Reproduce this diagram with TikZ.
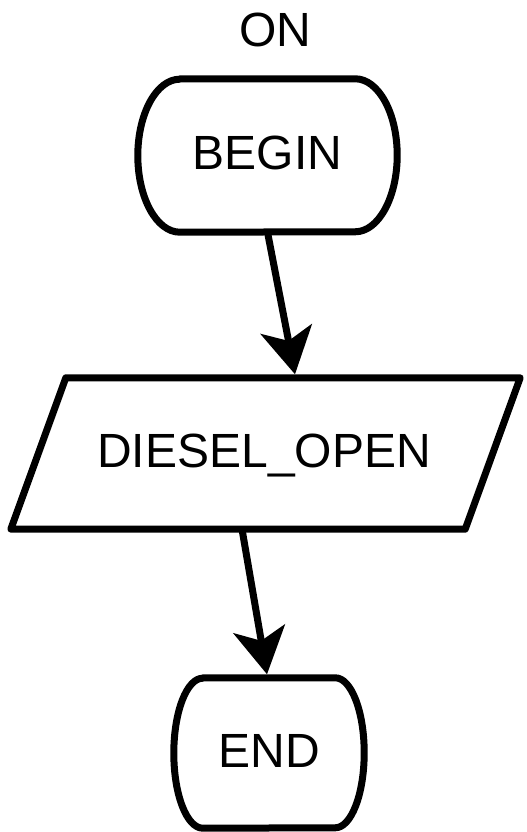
\documentclass[tikz,border=0pt]{standalone}
\usepackage{fontspec}
\setmainfont{Liberation Sans}
\usetikzlibrary{arrows.meta}
\begin{document}
\begin{tikzpicture}[x=1pt,y=1pt,
  lbl/.style={inner sep=0pt, anchor=base, font=\fontsize{48}{52}\selectfont},
  holder/.style={inner sep=0pt, draw=none},
  outline/.style={line width=7pt, line join=round},
  flow/.style={line width=7pt, -{Stealth[length=46pt, width=52pt, inset=12pt]}}]
  \useasboundingbox (0,0) rectangle (527,832);

  % BEGIN terminator
  \node[holder, minimum width=259, minimum height=153] (begin) at (267.5,676.5) {};
  \draw[outline] ([xshift=42]begin.north west) -- ([xshift=-42]begin.north east)
    arc[start angle=90, end angle=-90, x radius=42, y radius=76.5]
    -- ([xshift=42]begin.south west)
    arc[start angle=270, end angle=90, x radius=42, y radius=76.5] -- cycle;
  \node[lbl] (begintxt) at (267.5,662) {BEGIN};
  \node[lbl] (on) at (275.5,785) {ON};

  % DIESEL_OPEN input/output parallelogram
  \node[holder, minimum width=509, minimum height=151] (dio) at (265.5,378.5) {};
  \draw[outline] ([xshift=55]dio.north west) -- (dio.north east)
    -- ([xshift=-55]dio.south east) -- (dio.south west) -- cycle;
  \node[lbl] (diotxt) at (264,364) {DIESEL\_OPEN};

  % END terminator
  \node[holder, minimum width=190, minimum height=150] (end) at (269,79) {};
  \draw[outline] ([xshift=29]end.north west) -- ([xshift=-29]end.north east)
    arc[start angle=90, end angle=-90, x radius=29, y radius=75]
    -- ([xshift=29]end.south west)
    arc[start angle=270, end angle=90, x radius=29, y radius=75] -- cycle;
  \node[lbl] (endtxt) at (269,64) {END};

  % connectors
  \draw[flow] (begin.south) -- ([xshift=29.5,yshift=3.5]dio.north);
  \draw[flow] ([xshift=-23.5]dio.south) -- ([xshift=-2,yshift=3.5]end.north);
\end{tikzpicture}
\end{document}
